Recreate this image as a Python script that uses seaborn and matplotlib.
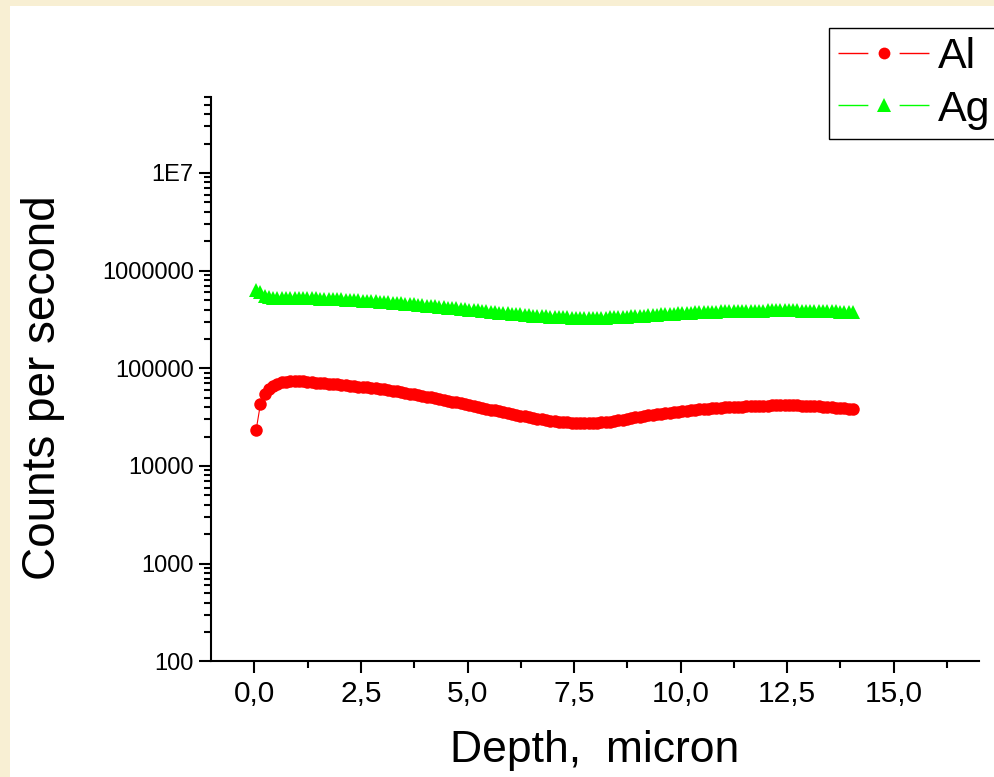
import numpy as np
import pandas as pd
import matplotlib
matplotlib.use("Agg")
import matplotlib.pyplot as plt
from matplotlib.lines import Line2D
from matplotlib.patches import Rectangle
from matplotlib.ticker import FixedLocator, FixedFormatter, LogLocator, NullFormatter, MultipleLocator
import seaborn as sns

# depth grid of the profile (micron), 0.1 step from 0.04 to 14.04
depth = np.round(np.arange(141) * 0.1 + 0.04, 2)

# Al counts per second
al_cps = [
    23500, 43000, 55000, 62000, 66500, 69800, 71800, 73000, 73600, 73800,
    73700, 73400, 72800, 72200, 71500, 70700, 70100, 69500, 68900, 68300,
    67700, 67000, 66300, 65600, 64900, 64300, 63700, 63100, 62400, 61700,
    60800, 60000, 59000, 58000, 57000, 56100, 55100, 54100, 53100, 52200,
    51200, 50300, 49300, 48400, 47500, 46600, 45700, 44700, 43800, 42900,
    42000, 41100, 40300, 39400, 38600, 37800, 37000, 36200, 35400, 34700,
    34000, 33400, 32800, 32200, 31600, 31100, 30600, 30100, 29600, 29200,
    28800, 28400, 28100, 27900, 27700, 27600, 27500, 27500, 27500, 27600,
    27700, 27900, 28200, 28500, 28900, 29400, 29900, 30500, 31000, 31500,
    32000, 32500, 33000, 33500, 34000, 34400, 34800, 35200, 35600, 36000,
    36400, 36800, 37200, 37600, 38000, 38300, 38700, 39000, 39300, 39500,
    39800, 40000, 40200, 40400, 40600, 40800, 41000, 41200, 41300, 41500,
    41600, 41700, 41800, 41900, 42000, 41900, 41800, 41700, 41500, 41300,
    41100, 40900, 40700, 40500, 40200, 39900, 39600, 39300, 39000, 38600,
    38000,
]

# Ag counts per second
ag_cps = [
    630000, 600000, 545000, 532000, 530000, 529000, 528000, 527000, 526000, 525000,
    524000, 523000, 522000, 520000, 519000, 517000, 515000, 513000, 511000, 509000,
    507000, 504000, 502000, 499000, 496000, 493000, 490000, 487000, 484000, 481000,
    478000, 474000, 471000, 467000, 463000, 459000, 455000, 451000, 447000, 443000,
    439000, 435000, 431000, 427000, 423000, 419000, 415000, 411000, 407000, 403000,
    399000, 395000, 391000, 387000, 383000, 379000, 375000, 372000, 368000, 365000,
    362000, 359000, 356000, 353000, 350000, 347000, 345000, 342000, 340000, 338000,
    336000, 334000, 333000, 332000, 331000, 330000, 329000, 329000, 329000, 329000,
    329000, 330000, 331000, 332000, 333000, 335000, 337000, 339000, 341000, 343000,
    345000, 347000, 350000, 352000, 354000, 357000, 359000, 361000, 363000, 365000,
    367000, 369000, 371000, 373000, 375000, 377000, 378000, 380000, 381000, 382000,
    383000, 384000, 385000, 386000, 387000, 388000, 389000, 389000, 390000, 390000,
    391000, 391000, 391000, 392000, 392000, 392000, 391000, 391000, 390000, 390000,
    389000, 388000, 387000, 386000, 385000, 384000, 382000, 380000, 378000, 376000,
    374000,
]

x_ticks = [0.0, 2.5, 5.0, 7.5, 10.0, 12.5, 15.0]
x_tick_labels = ["0,0", "2,5", "5,0", "7,5", "10,0", "12,5", "15,0"]
y_ticks = [1e2, 1e3, 1e4, 1e5, 1e6, 1e7]
y_tick_labels = ["100", "1000", "10000", "100000", "1000000", "1E7"]

sns.set_style("ticks")
plt.rcParams["font.family"] = ["Liberation Sans", "DejaVu Sans"]
plt.rcParams["text.color"] = "black"
plt.rcParams["axes.labelcolor"] = "black"
plt.rcParams["xtick.color"] = "black"
plt.rcParams["ytick.color"] = "black"

fig = plt.figure(figsize=(9.94, 7.77), dpi=100, facecolor="white")

# beige frame strips (left and top)
beige = "#F8EFD3"
fig.patches.append(Rectangle((0, 0), 10 / 994, 1, transform=fig.transFigure,
                             facecolor=beige, edgecolor="none", zorder=0))
fig.patches.append(Rectangle((0, 1 - 6 / 777), 1, 6 / 777, transform=fig.transFigure,
                             facecolor=beige, edgecolor="none", zorder=0))

ax = fig.add_axes([211 / 994, 1 - 661.3 / 777, 768 / 994, 564.3 / 777])
ax.set_facecolor("none")

df = pd.DataFrame({"depth": depth, "Al": al_cps, "Ag": ag_cps})

sns.lineplot(data=df, x="depth", y="Al", ax=ax, color="#FF0000", linewidth=0.8,
             marker="o", markersize=9, markeredgewidth=0, estimator=None, sort=False)
sns.lineplot(data=df, x="depth", y="Ag", ax=ax, color="#00FF00", linewidth=0.8,
             marker="^", markersize=9.5, markeredgewidth=0, estimator=None, sort=False)

ax.set_yscale("log")
ax.set_xlim(-1.02, 17.0)
ax.set_ylim(100, 6e7)

ax.xaxis.set_major_locator(FixedLocator(x_ticks))
ax.xaxis.set_major_formatter(FixedFormatter(x_tick_labels))
ax.xaxis.set_minor_locator(MultipleLocator(1.25))
ax.yaxis.set_major_locator(FixedLocator(y_ticks))
ax.yaxis.set_major_formatter(FixedFormatter(y_tick_labels))
ax.yaxis.set_minor_locator(LogLocator(base=10, subs=np.arange(2, 10)))
ax.yaxis.set_minor_formatter(NullFormatter())

for side in ["top", "right"]:
    ax.spines[side].set_visible(False)
for side in ["left", "bottom"]:
    ax.spines[side].set_linewidth(1.5)
    ax.spines[side].set_color("black")

ax.tick_params(axis="both", which="major", direction="out", length=8.5, width=1.5,
               color="black", labelcolor="black")
ax.tick_params(axis="both", which="minor", direction="out", length=5, width=1.5, color="black")
ax.tick_params(axis="x", which="major", labelsize=21.5, pad=5)
ax.tick_params(axis="y", which="major", labelsize=17, pad=4)

ax.set_xlabel("Depth,  micron", fontsize=32, color="black")
ax.set_ylabel("Counts per second", fontsize=33, color="black")
ax.xaxis.set_label_coords(0.5, -0.122)
ax.yaxis.set_label_coords(-0.19, 0.485)

handles = [
    Line2D([], [], color="#FF0000", linewidth=1, linestyle=(0, (21.5, 22.5)),
           marker="o", markersize=8.5, markeredgewidth=0),
    Line2D([], [], color="#00FF00", linewidth=1, linestyle=(0, (21.5, 22.5)),
           marker="^", markersize=10, markeredgewidth=0),
]
leg = fig.legend(handles, ["Al", "Ag"], loc="upper left",
                 bbox_to_anchor=(829 / 994, 1 - 28 / 777), bbox_transform=fig.transFigure,
                 fontsize=31, frameon=True, fancybox=False, shadow=False,
                 borderpad=0.22, labelspacing=0.28, handlelength=2.12,
                 handletextpad=0.2, borderaxespad=0, labelcolor="black")
leg.get_frame().set_edgecolor("black")
leg.get_frame().set_linewidth(1)
leg.get_frame().set_alpha(None)
leg.get_frame().set_facecolor("white")

fig.savefig("out.png", dpi=100)
